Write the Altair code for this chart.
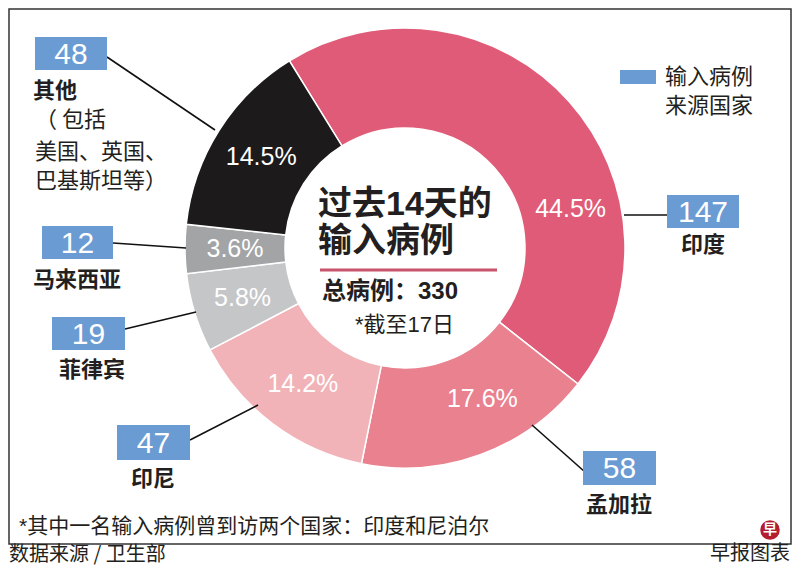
import math
import altair as alt
import pandas as pd

# ---------------- data ----------------
countries = ["印度", "孟加拉", "印尼", "菲律宾", "马来西亚", "其他"]
cases = [147, 58, 47, 19, 12, 48]
shares = [44.5, 17.6, 14.2, 5.8, 3.6, 14.5]
share_labels = ["44.5%", "17.6%", "14.2%", "5.8%", "3.6%", "14.5%"]
slice_colors = ["#e05b78", "#e9818f", "#f1b3b8", "#c5c6c8", "#a3a4a6", "#1c1a1b"]

title_lines = ["过去14天的", "输入病例"]
total_text = "总病例：330"
date_note = "*截至17日"
legend_lines = ["输入病例", "来源国家"]
others_detail = ["（ 包括", "美国、英国、", "巴基斯坦等）"]
footnote = "*其中一名输入病例曾到访两个国家：印度和尼泊尔"
source = "数据来源 / 卫生部"
credit = "早报图表"

# ---------------- layout (page pixel coordinates) ----------------
W, H = 784, 558
CX, CY = 405, 248            # donut centre on page
R_OUT, R_IN, R_LAB = 220, 120, 170
START = math.radians(-31.7)  # where the first slice begins
label_shift = [0.50, -0.12, 0.0, 0.0, 0.0, 0.0]   # radians, label nudges

# callout boxes: left, top, right, bottom
boxes = [(667, 195, 739, 228), (583, 451, 656, 485), (117, 425, 190, 460),
         (52, 317, 125, 350), (42, 226, 113, 259), (35, 37, 107, 70)]
# leader lines: x1, y1, x2, y2
leaders = [(624, 215, 667, 215), (532, 425, 585, 472), (258, 405, 190, 440),
           (196, 312, 125, 329), (186, 248, 113, 243), (215, 130, 107, 57)]
# country label anchors (x, y, align)
name_pos = [(703, 245, "center"), (619, 505, "center"), (153, 479, "center"),
            (92, 370, "center"), (33, 280, "left"), (33, 91, "left")]

FONT_LAT = "Liberation Sans, Noto Sans CJK SC"
FONT_CJK = "Noto Sans CJK SC"
DARK = "#231f20"
BLUE = "#6a9bd3"

X = lambda f: alt.X(f, scale=alt.Scale(domain=[8, 8 + W], nice=False, zero=False), axis=None)
Y = lambda f: alt.Y(f, scale=alt.Scale(domain=[8, 8 + H], nice=False, zero=False, reverse=True), axis=None)

# ---------------- donut ----------------
pie = pd.DataFrame({"country": countries, "share": shares, "label": share_labels,
                    "idx": list(range(len(countries)))})
theta = alt.Theta("share:Q", stack=True,
                  scale=alt.Scale(range=[START, START + 2 * math.pi]))
cx, cy = alt.value(CX - 8), alt.value(CY - 8)

arcs = alt.Chart(pie).mark_arc(innerRadius=R_IN, outerRadius=R_OUT,
                               stroke="white", strokeWidth=1.5).encode(
    theta=theta,
    color=alt.Color("country:N", scale=alt.Scale(domain=countries, range=slice_colors),
                    legend=None),
    order=alt.Order("idx:Q"),
    x=cx, y=cy,
)

label_layers = []
for i in range(len(countries)):
    label_layers.append(
        alt.Chart(pie).mark_text(radius=R_LAB, thetaOffset=label_shift[i], fontSize=25,
                                 font=FONT_LAT, color="white", align="center",
                                 baseline="middle").encode(
            theta=theta,
            order=alt.Order("idx:Q"),
            text=alt.condition(f"datum.idx == {i}", alt.Text("label:N"), alt.value("")),
            x=cx, y=cy,
        )
    )

# ---------------- frame ----------------
frame = alt.Chart(pd.DataFrame({"x": [9], "x2": [791], "y": [9], "y2": [544]})).mark_rect(
    fill=None, stroke="#333333", strokeWidth=1.5).encode(
    x=X("x:Q"), x2="x2:Q", y=Y("y:Q"), y2="y2:Q")

# ---------------- callouts ----------------
bx = pd.DataFrame({
    "x": [b[0] for b in boxes], "x2": [b[2] for b in boxes],
    "y": [b[1] for b in boxes], "y2": [b[3] for b in boxes],
    "cx": [(b[0] + b[2]) / 2 for b in boxes], "cy": [(b[1] + b[3]) / 2 + 1 for b in boxes],
    "n": [str(c) for c in cases],
})
box_rects = alt.Chart(bx).mark_rect(fill=BLUE).encode(
    x=X("x:Q"), x2="x2:Q", y=Y("y:Q"), y2="y2:Q")
box_nums = alt.Chart(bx).mark_text(fontSize=30, font=FONT_LAT, color="white",
                                   align="center", baseline="middle").encode(
    x=X("cx:Q"), y=Y("cy:Q"), text="n:N")

ld = pd.DataFrame({"x": [l[0] for l in leaders], "y": [l[1] for l in leaders],
                   "x2": [l[2] for l in leaders], "y2": [l[3] for l in leaders]})
lines = alt.Chart(ld).mark_rule(color="#111111", strokeWidth=1.6).encode(
    x=X("x:Q"), y=Y("y:Q"), x2="x2:Q", y2="y2:Q")

names_layers = []
for align in ["center", "left"]:
    sub = pd.DataFrame([{"x": p[0], "y": p[1], "t": countries[i]}
                        for i, p in enumerate(name_pos) if p[2] == align])
    names_layers.append(
        alt.Chart(sub).mark_text(fontSize=22, font=FONT_CJK, fontWeight="bold", color=DARK,
                                 align=align, baseline="middle").encode(
            x=X("x:Q"), y=Y("y:Q"), text="t:N"))

others_txt = alt.Chart(pd.DataFrame({"x": [35, 35, 35], "y": [120, 152, 181],
                                     "t": others_detail})).mark_text(
    fontSize=22, font=FONT_CJK, color=DARK, align="left", baseline="middle").encode(
    x=X("x:Q"), y=Y("y:Q"), text="t:N")

# ---------------- centre text ----------------
title_txt = alt.Chart(pd.DataFrame({"x": [318, 318], "y": [205, 242],
                                    "t": title_lines})).mark_text(
    fontSize=34, font=FONT_LAT, fontWeight="bold", color=DARK, align="left",
    baseline="middle").encode(x=X("x:Q"), y=Y("y:Q"), text="t:N")
red_rule = alt.Chart(pd.DataFrame({"x": [320], "x2": [497], "y": [270]})).mark_rule(
    color="#c9536b", strokeWidth=3).encode(x=X("x:Q"), x2="x2:Q", y=Y("y:Q"))
total_txt = alt.Chart(pd.DataFrame({"x": [322], "y": [292], "t": [total_text]})).mark_text(
    fontSize=24, font=FONT_LAT, fontWeight="bold", color=DARK, align="left",
    baseline="middle").encode(x=X("x:Q"), y=Y("y:Q"), text="t:N")
date_txt = alt.Chart(pd.DataFrame({"x": [355], "y": [325], "t": [date_note]})).mark_text(
    fontSize=22, font=FONT_LAT, color=DARK, align="left",
    baseline="middle").encode(x=X("x:Q"), y=Y("y:Q"), text="t:N")

# ---------------- legend ----------------
leg_rect = alt.Chart(pd.DataFrame({"x": [620], "x2": [656], "y": [70], "y2": [84]})).mark_rect(
    fill=BLUE).encode(x=X("x:Q"), x2="x2:Q", y=Y("y:Q"), y2="y2:Q")
leg_txt = alt.Chart(pd.DataFrame({"x": [665, 665], "y": [77, 106],
                                  "t": legend_lines})).mark_text(
    fontSize=22, font=FONT_CJK, color=DARK, align="left", baseline="middle").encode(
    x=X("x:Q"), y=Y("y:Q"), text="t:N")

# ---------------- notes ----------------
foot_txt = alt.Chart(pd.DataFrame({"x": [19], "y": [527], "t": [footnote]})).mark_text(
    fontSize=21, font=FONT_LAT, color=DARK, align="left", baseline="middle").encode(
    x=X("x:Q"), y=Y("y:Q"), text="t:N")
src_txt = alt.Chart(pd.DataFrame({"x": [9], "y": [555], "t": [source]})).mark_text(
    fontSize=20, font=FONT_CJK, color=DARK, align="left", baseline="middle").encode(
    x=X("x:Q"), y=Y("y:Q"), text="t:N")
credit_txt = alt.Chart(pd.DataFrame({"x": [790], "y": [554], "t": [credit]})).mark_text(
    fontSize=20, font=FONT_CJK, color=DARK, align="right", baseline="middle").encode(
    x=X("x:Q"), y=Y("y:Q"), text="t:N")
logo = alt.Chart(pd.DataFrame({"x": [770], "y": [530]})).mark_circle(
    size=380, color="#b41e2e", opacity=1).encode(x=X("x:Q"), y=Y("y:Q"))
logo_txt = alt.Chart(pd.DataFrame({"x": [770], "y": [530], "t": ["早"]})).mark_text(
    fontSize=14, font=FONT_CJK, fontWeight="bold", color="white", align="center",
    baseline="middle").encode(x=X("x:Q"), y=Y("y:Q"), text="t:N")

chart = alt.layer(
    frame, arcs, *label_layers, lines, box_rects, box_nums, *names_layers, others_txt,
    title_txt, red_rule, total_txt, date_txt, leg_rect, leg_txt,
    foot_txt, src_txt, credit_txt, logo, logo_txt,
).properties(
    width=W, height=H, padding=0, autosize=alt.AutoSizeParams(type="none"),
    background="white",
).configure_view(stroke=None)

chart.save("out.html", embed_options={"renderer": "svg", "actions": False})
